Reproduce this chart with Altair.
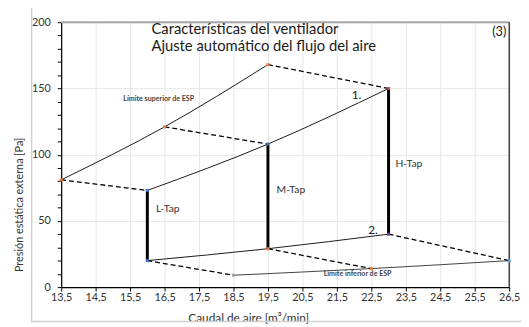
import altair as alt
import pandas as pd

FONT = "Lato"

# ---- axes ----
x_ticks = [13.5, 14.5, 15.5, 16.5, 17.5, 18.5, 19.5, 20.5, 21.5, 22.5, 23.5, 24.5, 25.5, 26.5]
y_ticks = [0, 10, 20, 30, 40, 50, 60, 70, 80, 90, 100, 110, 120, 130, 140, 150, 160, 170, 180, 190, 200]

# ---- solid curves ----
upper_x = [13.5, 16.5, 19.5]
upper_y = [81, 121, 168]
mid_x = [16.0, 19.5, 23.0]
mid_y = [73, 108, 150]
low_x = [16.0, 19.5, 23.0]
low_y = [20, 29, 40]
limlow_x = [18.5, 22.5, 26.5]
limlow_y = [9, 14, 20]

# ---- dashed connectors (x1, y1, x2, y2) ----
dash_x1 = [13.5, 16.5, 19.5, 16.0, 19.5, 23.0]
dash_y1 = [81, 121, 168, 20, 29, 40]
dash_x2 = [16.0, 19.5, 23.0, 18.5, 22.5, 26.5]
dash_y2 = [73, 108, 150, 9, 14, 20]

# ---- tap bars ----
tap_x = [16.0, 19.5, 23.0]
tap_lo = [20, 29, 40]
tap_hi = [73, 108, 150]

# ---- vertex markers ----
mk_x = [13.5, 16.5, 19.5, 23.0, 16.0, 16.0, 19.5, 19.5, 23.0, 18.5, 22.5, 26.5]
mk_y = [81, 121, 168, 150, 73, 20, 29, 108, 40, 9, 14, 20]
mk_c = ["#ed7d31", "#ed7d31", "#ed7d31", "#c0504d", "#4472c4", "#4472c4",
        "#ed7d31", "#4472c4", "#7030a0", "#a5a5a5", "#ed7d31", "#5b9bd5"]

# ---- annotations ----
tap_labels = ["L-Tap", "M-Tap", "H-Tap"]
tap_lab_x = [16.25, 19.75, 23.2]
tap_lab_y = [59, 73, 93]
num_labels = ["1.", "2."]
num_lab_x = [22.07, 22.55]
num_lab_y = [145, 43]
lim_labels = ["Límite superior de ESP", "Límite inferior de ESP"]
lim_lab_x = [16.33, 22.1]
lim_lab_y = [142, 10]
title_lines = ["Características del ventilador", "Ajuste automático del flujo del aire"]
title_x = [16.12, 16.12]
title_y = [191.0, 178.0]

# ---- build tables ----
curves = pd.DataFrame(
    [{"s": "upper", "o": i, "x": a, "y": b} for i, (a, b) in enumerate(zip(upper_x, upper_y))]
    + [{"s": "mid", "o": i, "x": a, "y": b} for i, (a, b) in enumerate(zip(mid_x, mid_y))]
    + [{"s": "low", "o": i, "x": a, "y": b} for i, (a, b) in enumerate(zip(low_x, low_y))]
)
limcurve = pd.DataFrame({"x": limlow_x, "y": limlow_y})
dashes = pd.DataFrame({"x": dash_x1, "y": dash_y1, "x2": dash_x2, "y2": dash_y2})
taps = pd.DataFrame({"x": tap_x, "y": tap_lo, "y2": tap_hi})
marks = pd.DataFrame({"x": mk_x, "y": mk_y, "c": mk_c})

xs = alt.Scale(domain=[13.5, 26.5], nice=False, zero=False)
ys = alt.Scale(domain=[0, 200], nice=False)

xaxis = alt.Axis(
    values=x_ticks, tickCount=100,
    labelExpr="replace(format(datum.value, '.1f'), '.', ',')",
    labelOverlap=False, labelFlush=False,
    grid=True, gridColor="#e6e6e6", gridWidth=1,
    domainColor="#000000", domainWidth=1.2,
    tickColor="#000000", tickSize=4, tickWidth=1,
    labelFont=FONT, labelFontSize=11, labelColor="#333333", labelPadding=1,
    title="Caudal de aire [m³/min]", titleFont=FONT, titleFontSize=12,
    titleFontWeight="normal", titleColor="#333333",
    titleX=190, titleY=26, titleAnchor="middle", titleBaseline="top",
)
yaxis = alt.Axis(
    values=y_ticks, tickCount=100,
    labelExpr="datum.value % 50 === 0 ? datum.label : ''",
    labelOverlap=False, labelFlush=False,
    grid=True, gridColor="#e6e6e6",
    gridOpacity={"condition": {"test": "datum.value % 50 === 0 && datum.value > 0 && datum.value < 200", "value": 1}, "value": 0},
    domainColor="#000000", domainWidth=1.2,
    tickColor="#000000", tickSize=4, tickWidth=1,
    labelFont=FONT, labelFontSize=11, labelColor="#333333", labelPadding=7,
    title="Presión estática externa [Pa]", titleFont=FONT, titleFontSize=11,
    titleFontWeight="normal", titleColor="#333333",
    titleX=-42, titleY=185, titleAngle=270, titleAnchor="middle", titleBaseline="middle",
)

base_line = alt.Chart(curves).mark_line(
    interpolate="monotone", color="#1a1a1a", strokeWidth=1
).encode(
    x=alt.X("x:Q", scale=xs, axis=xaxis),
    y=alt.Y("y:Q", scale=ys, axis=yaxis),
    detail="s:N", order="o:Q",
)

lim_line = alt.Chart(limcurve).mark_line(
    interpolate="monotone", color="#404040", strokeWidth=1
).encode(x=alt.X("x:Q", scale=xs), y=alt.Y("y:Q", scale=ys))

dash_layer = alt.Chart(dashes).mark_rule(
    color="#000000", strokeWidth=1.3, strokeDash=[5, 3]
).encode(x=alt.X("x:Q", scale=xs), y=alt.Y("y:Q", scale=ys), x2="x2:Q", y2="y2:Q")

tap_layer = alt.Chart(taps).mark_rule(color="#000000", strokeWidth=3).encode(
    x=alt.X("x:Q", scale=xs), y=alt.Y("y:Q", scale=ys), y2="y2:Q"
)

marker_layer = alt.Chart(marks).mark_square(size=9, opacity=1).encode(
    x=alt.X("x:Q", scale=xs), y=alt.Y("y:Q", scale=ys),
    color=alt.Color("c:N", scale=None),
)

# plot-area border pieces (top gray, right dark)
border_top = alt.Chart(pd.DataFrame({"x": [13.5], "x2": [26.5], "y": [200]})).mark_rule(
    color="#a6a6a6", strokeWidth=2
).encode(x=alt.X("x:Q", scale=xs), x2="x2:Q", y=alt.Y("y:Q", scale=ys))
border_right = alt.Chart(pd.DataFrame({"x": [26.5], "y": [0], "y2": [200]})).mark_rule(
    color="#262626", strokeWidth=1.3
).encode(x=alt.X("x:Q", scale=xs), y=alt.Y("y:Q", scale=ys), y2="y2:Q")

# outer chart frame
frame = alt.Chart(pd.DataFrame({"a": [0]})).mark_rect(
    fillOpacity=0, stroke="#d0d0d0", strokeWidth=1.5
).encode(x=alt.value(-30), x2=alt.value(490), y=alt.value(-16), y2=alt.value(304))

def txt(labels, xv, yv, size, align="left", color="#333333", weight="normal", baseline="middle"):
    df = pd.DataFrame({"t": labels, "x": xv, "y": yv})
    return alt.Chart(df).mark_text(
        font=FONT, fontSize=size, align=align, baseline=baseline, color=color,
        fontWeight=weight,
    ).encode(x=alt.X("x:Q", scale=xs), y=alt.Y("y:Q", scale=ys), text="t:N")

t_taps = txt(tap_labels, tap_lab_x, tap_lab_y, 10.5)
t_nums = txt(num_labels, num_lab_x, num_lab_y, 12, align="center", color="#1a1a1a")
t_lims = txt(lim_labels, lim_lab_x, lim_lab_y, 7.2, align="center", color="#444444", weight="bold")
t_title = txt(title_lines, title_x, title_y, 15, color="#1a1a1a", baseline="alphabetic")
t_three = txt(["(3)"], [26.42], [192.5], 13, align="right", color="#1a1a1a")

chart = alt.layer(
    frame, base_line, lim_line, dash_layer, tap_layer, border_top, border_right,
    marker_layer, t_taps, t_nums, t_lims, t_title, t_three
).properties(
    width=455, height=269,
    autosize=alt.AutoSizeParams(type="none"),
    padding={"left": 54, "top": 12, "right": 12, "bottom": 36},
).configure_view(strokeWidth=0).configure(background="#ffffff")

chart.save("out.html", embed_options={"renderer": "svg", "actions": False})
